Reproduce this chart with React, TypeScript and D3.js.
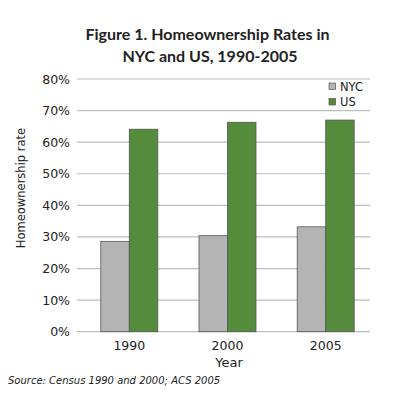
import React from "react";
import * as d3 from "d3";

const years = ["1990", "2000", "2005"];
const seriesNames = ["NYC", "US"];
const nycValues = [28.6, 30.4, 33.2];
const usValues = [64.1, 66.3, 67.0];
const yTicks = [0, 10, 20, 30, 40, 50, 60, 70, 80];
const colors = ["#b4b4b4", "#558c3c"];

const W = 398;
const H = 400;
const FONT = "'DejaVu Sans', Verdana, sans-serif";
const TITLE_FONT = "Lato, 'Open Sans', sans-serif";

export default function App() {
  const y = d3.scaleLinear().domain([0, 80]).range([331.7, 79]);
  const x = d3.scaleBand<string>().domain(years).range([80.2, 374.8]);
  const inner = d3.scaleBand<string>().domain(seriesNames).range([0, 57]);
  const gridX0 = 77;
  const gridX1 = 370;
  const series = [nycValues, usValues];

  return (
    <svg width={W} height={H} style={{ position: "absolute", left: 0, top: 0, background: "#fff" }}>
      <g fontFamily={TITLE_FONT} fill="#222">
        <text x={207.5} y={40} textAnchor="middle" fontSize={16} fontWeight="bold">
          Figure 1. Homeownership Rates in
        </text>
        <text x={210} y={62} textAnchor="middle" fontSize={16} fontWeight="bold">
          NYC and US, 1990-2005
        </text>
      </g>
      {yTicks.map((t) => (
        <g key={t}>
          <line x1={gridX0} x2={gridX1} y1={y(t)} y2={y(t)} stroke="#bdbdbd" strokeWidth={1.2} />
          <text x={70} y={y(t)} dy="0.36em" textAnchor="end" fontFamily={FONT} fontSize={12.5} fill="#222">
            {t}%
          </text>
        </g>
      ))}
      {years.map((yr, i) => (
        <g key={yr} transform={`translate(${x(yr)! + x.bandwidth() / 2 - 28.5},0)`}>
          {series.map((vals, s) => (
            <rect
              key={s}
              x={inner(seriesNames[s])!}
              y={y(vals[i])}
              width={inner.bandwidth()}
              height={y(0) - y(vals[i])}
              fill={colors[s]}
              stroke="#555"
              strokeWidth={0.8}
            />
          ))}
        </g>
      ))}
      {years.map((yr) => (
        <text key={yr} x={x(yr)! + x.bandwidth() / 2} y={349.5} textAnchor="middle" fontFamily={FONT} fontSize={12.5} fill="#222">
          {yr}
        </text>
      ))}
      <text x={229} y={367} textAnchor="middle" fontFamily={FONT} fontSize={13} fill="#222">
        Year
      </text>
      <text transform="translate(25,188) rotate(-90)" textAnchor="middle" fontFamily={FONT} fontSize={11.5} fill="#222">
        Homeownership rate
      </text>
      {seriesNames.map((n, i) => (
        <g key={n} transform={`translate(329,${83 + i * 15.5})`}>
          <rect x={0} y={0} width={6.5} height={6.5} fill={colors[i]} stroke="#555" strokeWidth={0.7} />
          <text x={11} y={3.5} dy="0.36em" fontFamily={FONT} fontSize={11.5} fill="#222">
            {n}
          </text>
        </g>
      ))}
      <text x={8} y={384} fontFamily={FONT} fontSize={10} fontStyle="italic" fill="#222">
        Source: Census 1990 and 2000; ACS 2005
      </text>
    </svg>
  );
}
